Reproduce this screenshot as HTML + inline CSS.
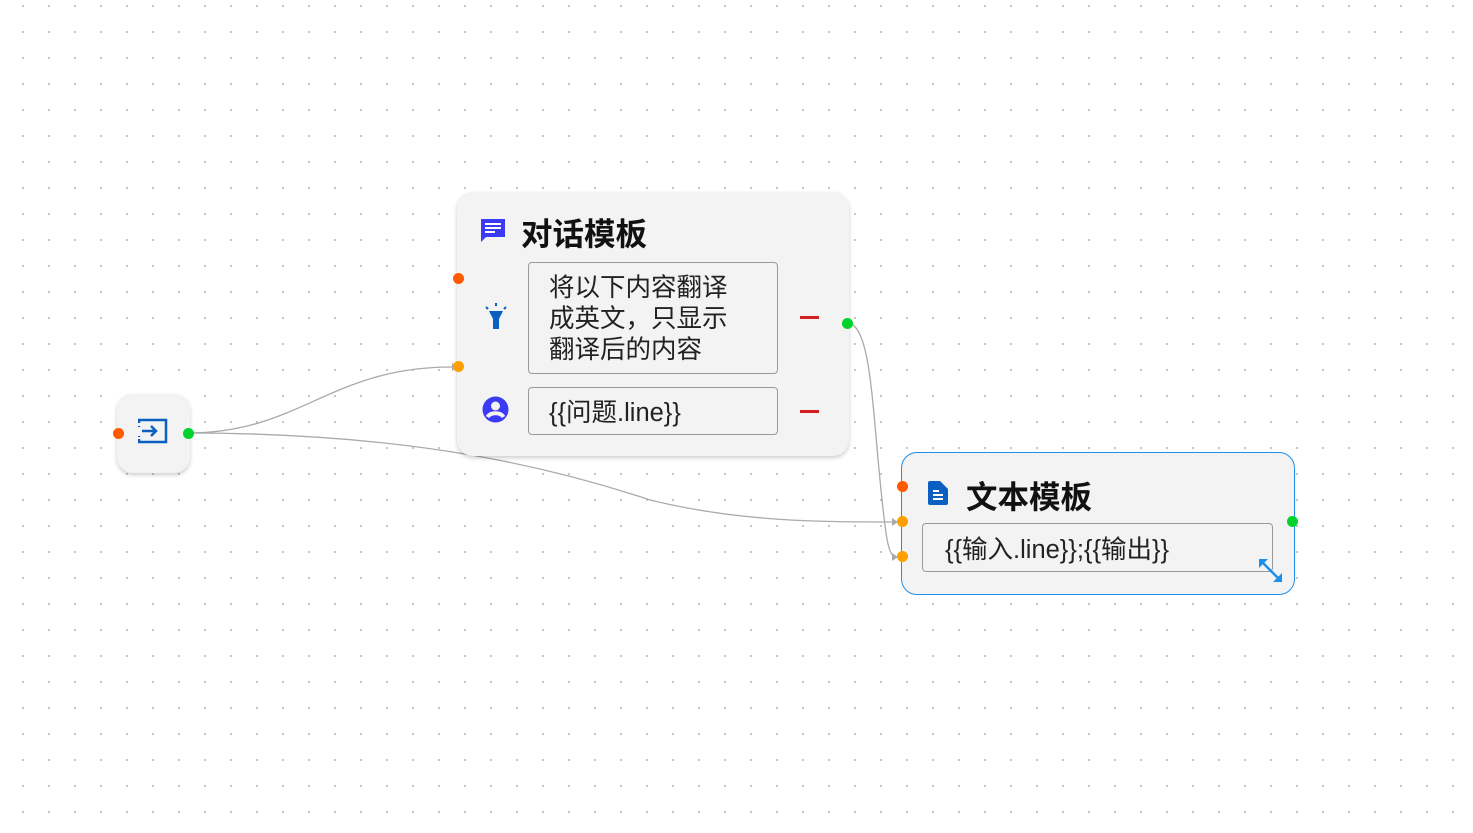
<!DOCTYPE html>
<html><head><meta charset="utf-8"><style>
body{margin:0;width:1473px;height:833px;overflow:hidden;background:#fff;
background-image:radial-gradient(circle,#bbb 0.8px,transparent 1.2px);background-size:26px 26px;background-position:10px -7px;
font-family:"Liberation Sans","Noto Sans CJK SC",sans-serif;position:relative}
.node{position:absolute;background:#f3f3f3;border-radius:16px;box-shadow:0 2px 4px rgba(0,0,0,.2)}
.dot{position:absolute;width:11px;height:11px;border-radius:50%}
.o{background:#ff5a00}.y{background:#ffa000}.g{background:#00d42a}
.box{position:absolute;border:1px solid #999;border-radius:4px;background:#f3f3f3;color:#222;font-size:25.5px}
.t{position:absolute;font-weight:bold;font-size:31.5px;color:#111}
.minus{position:absolute;width:19px;height:3px;background:#d32020}
</style></head><body>
<svg style="position:absolute;left:0;top:0" width="1473" height="833">
<g fill="none" stroke="#aaa" stroke-width="1.3">
<path d="M188 433 C300 433 330 367 452 367"/>
<path d="M188 433 C420 433 560 470 650 500 C740 522 820 522 897 522"/>
<path d="M847 323 C870 323 872 400 880 480 C886 540 888 557 897 557"/>
</g>
<g fill="#aaa"><path d="M452 363 l6 4 -6 4z"/><path d="M892 518 l6 4 -6 4z"/><path d="M892 553 l6 4 -6 4z"/></g>
</svg>
<div class="node" style="left:117px;top:394px;width:73px;height:79px"></div>
<svg style="position:absolute;left:138px;top:418px" width="30" height="26"><path d="M1 5V2h27v22H1v-3M1 9v-1M1 18v1" fill="none" stroke="#0a5fc0" stroke-width="2.5"/><path d="M4 13h14M13 8l5 5-5 5" fill="none" stroke="#0a5fc0" stroke-width="2.5"/></svg>
<div class="dot o" style="left:113px;top:428px"></div><div class="dot g" style="left:183px;top:428px"></div>

<div class="node" style="left:457px;top:192px;width:392px;height:264px"></div>
<svg style="position:absolute;left:480px;top:218px" width="26" height="26"><path d="M1 1h24v18H6l-5 5z" fill="#3b3bf5"/><path d="M5 6h16M5 10h16M5 14h10" stroke="#fff" stroke-width="2"/></svg>
<div class="t" style="left:521px;top:209px">对话模板</div>
<svg style="position:absolute;left:484px;top:302px" width="24" height="28"><path d="M5 9h14l-4 8v10h-6v-10z" fill="#0a5fc0"/><path d="M12 1v3M2 5l2 2M22 5l-2 2" stroke="#0a5fc0" stroke-width="2"/></svg>
<div class="box" style="left:528px;top:262px;width:248px;height:110px;line-height:31px;padding:0;"><div style="padding:10px 0 0 20px">将以下内容翻译<br>成英文，只显示<br>翻译后的内容</div></div>
<svg style="position:absolute;left:482px;top:396px" width="27" height="27"><circle cx="13.5" cy="13.5" r="13" fill="#3b3bf5"/><circle cx="13.5" cy="10" r="4.5" fill="#f3f3f3"/><path d="M5.5 21c3-5 13-5 16 0" stroke="#f3f3f3" stroke-width="4" fill="none"/></svg>
<div class="box" style="left:528px;top:387px;width:248px;height:46px;line-height:50px"><span style="padding-left:20px">{{问题.line}}</span></div>
<div class="minus" style="left:800px;top:316px"></div><div class="minus" style="left:800px;top:410px"></div>
<div class="dot o" style="left:453px;top:273px"></div><div class="dot y" style="left:453px;top:361px"></div><div class="dot g" style="left:842px;top:318px"></div>

<div class="node" style="left:901px;top:452px;width:392px;height:141px;border:1.5px solid #1e8fe8;box-shadow:none"></div>
<svg style="position:absolute;left:926px;top:480px" width="24" height="26"><path d="M2 3q0-2 2-2h10l8 8v14q0 2-2 2H4q-2 0-2-2z" fill="#0a5fc0"/><path d="M7 11h6M7 15h10M7 19h10" stroke="#fff" stroke-width="2"/></svg>
<div class="t" style="left:966px;top:472px">文本模板</div>
<div class="box" style="left:922px;top:523px;width:349px;height:47px;line-height:52px"><span style="padding-left:22px">{{输入.line}};{{输出}}</span></div>
<svg style="position:absolute;left:1257px;top:557px" width="28" height="28"><path d="M4 4l19 19" stroke="#1e8fe8" stroke-width="2.5"/><path d="M2 2h9L2 11zM25 25h-9l9-9z" fill="#1e8fe8"/></svg>
<div class="dot o" style="left:897px;top:481px"></div><div class="dot y" style="left:897px;top:516px"></div><div class="dot y" style="left:897px;top:551px"></div><div class="dot g" style="left:1287px;top:516px"></div>
</body></html>
